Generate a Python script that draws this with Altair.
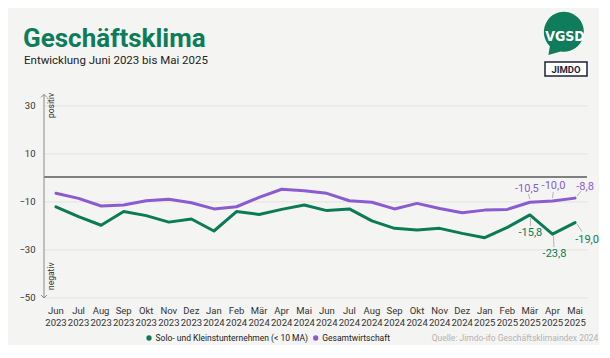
import altair as alt
import pandas as pd

# ---------------- data ----------------
months = ["Jun", "Jul", "Aug", "Sep", "Okt", "Nov", "Dez", "Jan", "Feb", "Mär", "Apr", "Mai",
          "Jun", "Jul", "Aug", "Sep", "Okt", "Nov", "Dez", "Jan", "Feb", "Mär", "Apr", "Mai"]
years = ["2023"] * 7 + ["2024"] * 12 + ["2025"] * 5
solo = [-12.4, -16.5, -20.1, -14.4, -16.1, -18.8, -17.5, -22.5, -14.4, -15.6, -13.5, -11.7,
        -14.0, -13.3, -18.3, -21.4, -22.1, -21.4, -23.5, -25.3, -21.0, -15.8, -23.8, -19.0]
gesamt = [-6.8, -8.9, -12.1, -11.7, -9.9, -9.3, -10.7, -13.3, -12.4, -8.5, -5.1, -5.7,
          -6.8, -9.9, -10.5, -13.3, -11.0, -13.1, -14.9, -13.8, -13.5, -10.5, -10.0, -8.8]
series_names = ["Solo- und Kleinstunternehmen (< 10 MA)", "Gesamtwirtschaft"]
series_colors = ["#0b7b57", "#8b5bd1"]
y_ticks = [-50, -30, -10, 10, 30]
label_idx = [21, 22, 23]
title_text = "Geschäftsklima"
subtitle_text = "Entwicklung Juni 2023 bis Mai 2025"
source_text = "Quelle: Jimdo-ifo Geschäftsklimaindex 2024"

# ---------------- layout helpers ----------------
FONT = "Roboto"
PLOT_L, PLOT_T = 44.0, 95.4          # page coords of the plot area
W, H = 543, 201.6
XDOM = [-0.53, 23.53]
YDOM = [-50, 34]
PX_PER_X = W / (XDOM[1] - XDOM[0])
PX_PER_Y = H / (YDOM[1] - YDOM[0])


def px(x):
    return x - PLOT_L


def py(y):
    return y - PLOT_T


def fmt(v):
    return f"{v:.1f}".replace(".", ",")


rows = []
for i in range(len(months)):
    rows.append({"idx": i, "value": solo[i], "series": series_names[0]})
    rows.append({"idx": i, "value": gesamt[i], "series": series_names[1]})
df = pd.DataFrame(rows)

mdf = pd.DataFrame({"idx": list(range(len(months))),
                    "lbl": [m + "\n" + y for m, y in zip(months, years)]})

xscale = alt.Scale(domain=XDOM, nice=False, zero=False)
yscale = alt.Scale(domain=YDOM, nice=False, zero=False)
yaxis = alt.Axis(values=y_ticks, grid=True, domain=False, ticks=False,
                 labelPadding=9, labelFontSize=9.5, labelColor="#333333",
                 labelFont=FONT, gridColor="#e2e2df", gridWidth=1, title=None)


def X(field):
    return alt.X(field, scale=xscale, axis=None)


def Y(field):
    return alt.Y(field, scale=yscale, axis=yaxis)


color = alt.Color("series:N", scale=alt.Scale(domain=series_names, range=series_colors), legend=None)

one = pd.DataFrame({"a": [0]})

layers = []

# lines
layers.append(alt.Chart(df).mark_line(strokeWidth=3, strokeJoin="round", strokeCap="round")
              .encode(x=X("idx:Q"), y=Y("value:Q"), color=color, detail="series:N"))

# zero line
layers.append(alt.Chart(pd.DataFrame({"value": [0]})).mark_rule(color="#5a5a5a", strokeWidth=1.3)
              .encode(y=Y("value:Q")))

# vertical axis with arrows
layers.append(alt.Chart(one).mark_rule(color="#8a8a8a", strokeWidth=1)
              .encode(x=alt.value(0), y=alt.value(-1), y2=alt.value(H + 1)))
layers.append(alt.Chart(one).mark_point(shape="M-1,1L0,0L1,1", filled=False, size=36,
                                        strokeWidth=1, color="#8a8a8a", opacity=1)
              .encode(x=alt.value(0), y=alt.value(-1)))
layers.append(alt.Chart(one).mark_point(shape="M-1,-1L0,0L1,-1", filled=False, size=36,
                                        strokeWidth=1, color="#8a8a8a", opacity=1)
              .encode(x=alt.value(0), y=alt.value(H + 1)))
layers.append(alt.Chart(one).mark_text(text="positiv", angle=270, align="right", baseline="top",
                                       font=FONT, fontSize=8.5, color="#333333")
              .encode(x=alt.value(px(47)), y=alt.value(py(93))))
layers.append(alt.Chart(one).mark_text(text="negativ", angle=270, align="left", baseline="top",
                                       font=FONT, fontSize=8.5, color="#333333")
              .encode(x=alt.value(px(47)), y=alt.value(py(290))))

# month labels
layers.append(alt.Chart(mdf).mark_text(baseline="top", align="center", lineBreak="\n",
                                       lineHeight=11.5, font=FONT, fontSize=9.5, color="#333333")
              .encode(x=X("idx:Q"), y=alt.value(py(306)), text="lbl:N"))

# end annotations
label_style = {
    # (series index, idx): (dx, dy) of label, leader (x1, y1, x2, y2) in px relative to point
    (1, 21): ((-3, -13), (0, -3, -1.5, -8)),
    (1, 22): ((1, -15), (0, -3, 0.8, -9)),
    (1, 23): ((10, -11.5), (2, -2, 6, -7)),
    (0, 21): ((0.5, 18.5), (0.5, 2.5, 0.5, 11)),
    (0, 22): ((2, 20), (1, 2, 1.5, 13)),
    (0, 23): ((12, 17.5), (2, 1.5, 7, 9)),
}
series_vals = [solo, gesamt]
for (s, i), ((dx, dy), (lx1, ly1, lx2, ly2)) in label_style.items():
    v = series_vals[s][i]
    pt = pd.DataFrame({"idx": [i], "value": [v], "lbl": [fmt(v)]})
    lead = pt.assign(x1=i + lx1 / PX_PER_X, x2=i + lx2 / PX_PER_X,
                     y1=v - ly1 / PX_PER_Y, y2=v - ly2 / PX_PER_Y)
    layers.append(alt.Chart(lead).mark_rule(color="#b5b5b5", strokeWidth=1)
                  .encode(x=X("x1:Q"), x2="x2:Q", y=Y("y1:Q"), y2="y2:Q"))
    layers.append(alt.Chart(pt).mark_text(dx=dx, dy=dy, align="center", baseline="middle",
                                          font=FONT, fontSize=11, color=series_colors[s])
                  .encode(x=X("idx:Q"), y=Y("value:Q"), text="lbl:N"))

# legend
leg_x = [149, 315.7]
for k in range(2):
    layers.append(alt.Chart(one).mark_point(filled=True, size=28, color=series_colors[k], opacity=1)
                  .encode(x=alt.value(px(leg_x[k])), y=alt.value(py(338))))
    layers.append(alt.Chart(one).mark_text(text=series_names[k], align="left", baseline="middle",
                                           font=FONT, fontSize=8.5, color="#222222")
                  .encode(x=alt.value(px(leg_x[k] + 6.5)), y=alt.value(py(338))))
layers.append(alt.Chart(one).mark_text(text=source_text, align="left", baseline="middle",
                                       font=FONT, fontSize=8.5, color="#b3b3b3")
              .encode(x=alt.value(px(431.7)), y=alt.value(py(338))))

# titles
layers.append(alt.Chart(one).mark_text(text=title_text, align="left", baseline="alphabetic",
                                       font=FONT, fontSize=26, fontWeight="bold", color="#0c7c5a")
              .encode(x=alt.value(px(23)), y=alt.value(py(47))))
layers.append(alt.Chart(one).mark_text(text=subtitle_text, align="left", baseline="alphabetic",
                                       font=FONT, fontSize=11.5, color="#222222")
              .encode(x=alt.value(px(24)), y=alt.value(py(64))))

# logos
bubble = "M-0.17,0.98A1,1,0,1,0,-0.707,0.707L-0.78,1.15Z"
layers.append(alt.Chart(one).mark_point(shape=bubble, filled=True, size=1600, color="#0f7d5b", opacity=1)
              .encode(x=alt.value(px(564)), y=alt.value(py(32))))
layers.append(alt.Chart(one).mark_text(text="VGSD", align="center", baseline="middle",
                                       font="DejaVu Sans Condensed", fontSize=14, fontWeight="bold",
                                       color="#ffffff")
              .encode(x=alt.value(px(565)), y=alt.value(py(37))))
layers.append(alt.Chart(one).mark_rect(fill="#ffffff", stroke="#1e1e3c", strokeWidth=1.5)
              .encode(x=alt.value(px(545)), x2=alt.value(px(587)),
                      y=alt.value(py(62)), y2=alt.value(py(76))))
layers.append(alt.Chart(one).mark_text(text="JIMDO", align="center", baseline="middle",
                                       font=FONT, fontSize=9.5, fontWeight="bold", color="#1e1e3c")
              .encode(x=alt.value(px(566)), y=alt.value(py(69.5))))

chart = alt.layer(*layers).properties(
    width=W, height=H,
    padding={"left": PLOT_L - 8, "top": PLOT_T - 8, "right": 12, "bottom": 48},
    autosize=alt.AutoSizeParams(type="none"),
).configure(background="#f4f4f2").configure_view(stroke=None)

chart.save("out.html", embed_options={"renderer": "svg", "actions": False})
